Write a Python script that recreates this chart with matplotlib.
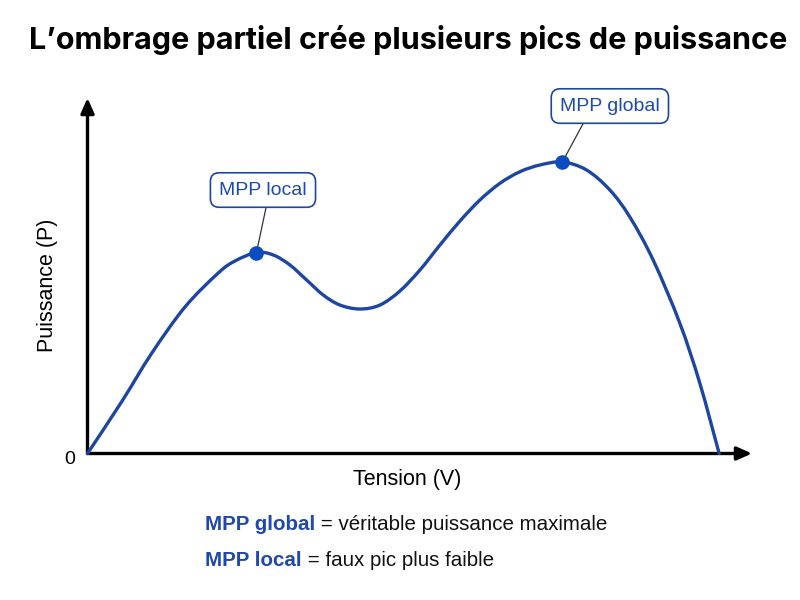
import matplotlib
matplotlib.use("Agg")
import matplotlib.pyplot as plt
from matplotlib.path import Path
from matplotlib.patches import PathPatch

# P-V curve (tension in % of Voc, puissance in % of global max)
tension = [0, 5.41, 10.16, 15.43, 20.70, 23.35, 26.75, 29.41, 32.05, 34.69, 37.32,
           39.96, 43.13, 46.30, 49.46, 52.63, 55.80, 58.97, 62.12, 65.29, 68.46,
           71.62, 75.18, 79.01, 82.70, 85.86, 89.55, 93.76, 96.93, 100]
puissance = [0, 17.77, 34.37, 50.26, 61.92, 66.04, 68.95, 68.10, 64.67, 59.52, 54.37,
             50.94, 49.57, 50.94, 55.75, 62.95, 71.53, 79.76, 86.96, 92.69, 96.67,
             98.97, 100, 97.26, 90.39, 81.13, 66.38, 44.77, 24.19, 0]
mpp_labels = ["MPP local", "MPP global"]
mpp_v = [26.75, 75.18]
mpp_p = [68.95, 100]
box_v = [27.78, 82.70]    # label box centres
box_p = [90.39, 119.2]
stem_v = [28.25, 78.43]   # where the connector leaves the box
stem_p = [84.22, 113.04]

BLUE = "#1d46a3"
TXT_BLUE = "#1f49ad"
DOT = "#0c4cc2"
FONT = ["Liberation Sans", "DejaVu Sans"]


def smooth_path(xs, ys):
    """Catmull-Rom through the read points, drawn as cubic Bezier segments."""
    verts, codes = [(xs[0], ys[0])], [Path.MOVETO]
    n = len(xs)
    for i in range(n - 1):
        x0, y0 = (xs[i - 1], ys[i - 1]) if i > 0 else (xs[i], ys[i])
        x1, y1 = xs[i], ys[i]
        x2, y2 = xs[i + 1], ys[i + 1]
        x3, y3 = (xs[i + 2], ys[i + 2]) if i + 2 < n else (x2, y2)
        c1 = (x1 + (x2 - x0) / 6, y1 + (y2 - y0) / 6)
        c2 = (x2 - (x3 - x1) / 6, y2 - (y3 - y1) / 6)
        verts += [c1, c2, (x2, y2)]
        codes += [Path.CURVE4] * 3
    return Path(verts, codes)


fig = plt.figure(figsize=(8, 6), dpi=100)
ax = fig.add_axes([87.5 / 800, 146.5 / 600, 664.5 / 800, 355.5 / 600])
ax.set_xlim(0, 105.2)
ax.set_ylim(0, 121.96)
for s in ax.spines.values():
    s.set_visible(False)
ax.set_xticks([]); ax.set_yticks([])

# axes drawn as arrows
for tip in [(1.0, 0), (0, 1.0)]:
    ax.annotate("", xy=tip, xytext=(0, 0), xycoords="axes fraction",
                arrowprops=dict(arrowstyle="-|>,head_length=0.9,head_width=0.4", color="black",
                                lw=2.4, shrinkA=0, shrinkB=0))

ax.add_patch(PathPatch(smooth_path(tension, puissance), fc="none", ec=BLUE, lw=2.4,
                       capstyle="round", joinstyle="round", zorder=3, clip_on=False))

for lab, v, p, bv, bp, sv, sp in zip(mpp_labels, mpp_v, mpp_p, box_v, box_p, stem_v, stem_p):
    ax.plot([v, sv], [p, sp], color="#333333", lw=0.9, zorder=2, clip_on=False)
    ax.plot(v, p, "o", color=DOT, ms=9.5, zorder=5, clip_on=False)
    ax.text(bv, bp, lab, ha="center", va="center", fontsize=14, color=TXT_BLUE,
            family=FONT, zorder=6,
            bbox=dict(boxstyle="round,pad=0.45,rounding_size=0.45", fc="white",
                      ec=BLUE, lw=1.2))

fig.text(70 / 800, 1 - 460 / 600, "0", ha="center", va="center", fontsize=14, family=FONT)
fig.text(407 / 800, 1 - 480 / 600, "Tension (V)", ha="center", va="center", fontsize=15.5,
         family=FONT)
fig.text(47 / 800, 1 - 285 / 600, "Puissance (P)", ha="center", va="center", fontsize=15.5,
         rotation=90, family=FONT)

fig.text(408 / 800, 1 - 40 / 600, "L\u2019ombrage partiel crée plusieurs pics de puissance",
         ha="center", va="center", fontsize=22, fontweight="bold", family=["Inter", "DejaVu Sans"])

notes = [("MPP global", " = véritable puissance maximale", 525),
         ("MPP local", " = faux pic plus faible", 561)]
for key, rest, y in notes:
    t1 = fig.text(205 / 800, 1 - y / 600, key, ha="left", va="center", fontsize=14.8,
                  fontweight="bold", color=TXT_BLUE, family=FONT)
    ax.annotate(rest, xy=(1, 0.5), xycoords=t1, ha="left", va="center", fontsize=14.8,
                color="#111111", family=FONT, annotation_clip=False)

fig.savefig("out.png", dpi=100, facecolor="white")
